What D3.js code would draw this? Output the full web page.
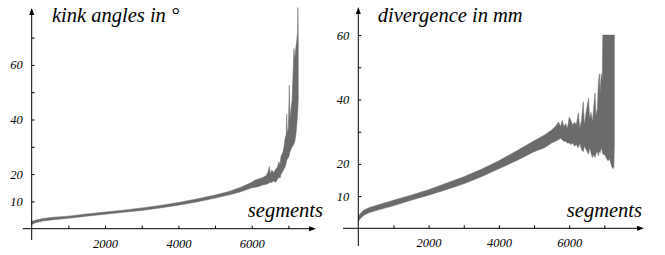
<!DOCTYPE html>
<html>
<head>
<meta charset="utf-8">
<script src="https://cdn.jsdelivr.net/npm/d3@7"></script>
<style>
  body { margin: 0; background: #fff; }
</style>
</head>
<body>
<svg id="chart" width="665" height="255"></svg>
<script>
// kink angles in degrees: band (low / high) read along the segment index
const kinkSeg  = [0, 100, 300, 600, 1000, 1500, 2000, 2500, 3000, 3500, 4000, 4500, 5000, 5400, 5700, 6000, 6100, 6200, 6300, 6400, 6450, 6480, 6510, 6550, 6600, 6650, 6700, 6740, 6770, 6800, 6850, 6880, 6910, 6940, 6955, 6970, 7000, 7025, 7040, 7070, 7100, 7130, 7150, 7175, 7200, 7230, 7250, 7258, 7265, 7270];
const kinkLow  = [1.5, 2.2, 2.8, 3.3, 3.8, 4.6, 5.3, 6.0, 6.7, 7.6, 8.6, 9.8, 11.2, 12.4, 13.5, 15.0, 15.2, 15.5, 16.0, 16.3, 16.5, 17.0, 16.8, 17.0, 17.5, 17.0, 18.0, 19.0, 18.5, 20.0, 21.0, 22.0, 22.5, 24.0, 25.0, 25.5, 26.0, 27.0, 28.0, 29.0, 30.0, 30.5, 31.0, 32.0, 34.0, 38.0, 42.0, 44.0, 46.0, 47.0];
const kinkHigh = [2.6, 3.1, 3.7, 4.2, 4.6, 5.4, 6.1, 6.8, 7.6, 8.5, 9.6, 10.9, 12.3, 13.7, 15.2, 17.0, 17.8, 18.3, 18.8, 19.5, 21.0, 22.8, 20.0, 21.5, 20.5, 21.8, 22.5, 24.5, 23.5, 26.5, 28.0, 30.0, 33.0, 34.5, 42.0, 35.0, 37.0, 52.5, 40.0, 44.0, 47.0, 58.0, 66.0, 62.0, 66.0, 69.0, 72.0, 81.0, 75.0, 68.0];

// divergence in mm (clipped at 60)
const divSeg  = [0, 50, 150, 300, 600, 1000, 1500, 2000, 2500, 3000, 3500, 4000, 4500, 5000, 5300, 5500, 5600, 5700, 5750, 5800, 5850, 5900, 5950, 6000, 6050, 6100, 6150, 6200, 6260, 6300, 6350, 6400, 6430, 6480, 6550, 6580, 6620, 6660, 6700, 6734, 6760, 6800, 6830, 6858, 6880, 6910, 6940, 6955, 7000, 7050, 7100, 7150, 7200, 7240, 7270, 7285];
const divLow  = [2.0, 3.0, 4.0, 4.8, 5.8, 7.0, 8.7, 10.3, 12.0, 13.8, 16.0, 18.5, 21.0, 23.8, 25.0, 26.5, 27.0, 27.5, 28.0, 27.5, 27.0, 27.0, 26.5, 26.5, 26.0, 26.5, 25.5, 26.0, 25.0, 26.5, 24.5, 23.8, 25.5, 24.5, 23.0, 25.0, 23.5, 22.0, 23.0, 22.0, 23.0, 24.0, 22.5, 24.0, 23.5, 25.0, 24.0, 23.0, 23.0, 22.0, 21.0, 21.5, 19.5, 18.5, 19.0, 26.0];
const divHigh = [3.6, 4.5, 5.6, 6.4, 7.4, 8.7, 10.3, 12.0, 14.0, 16.0, 18.3, 21.0, 24.0, 27.2, 29.0, 30.5, 31.5, 33.0, 31.5, 33.5, 31.5, 32.5, 31.0, 34.5, 33.5, 32.0, 33.0, 32.0, 35.8, 31.0, 33.5, 39.3, 32.0, 36.0, 40.4, 34.0, 36.0, 33.0, 38.0, 42.0, 35.0, 37.0, 45.0, 48.0, 42.0, 48.0, 46.0, 60.0, 60.0, 60.0, 60.0, 60.0, 60.0, 60.0, 60.0, 60.0];

const xTicks = [1000, 2000, 3000, 4000, 5000, 6000, 7000];
const xLabels = [2000, 4000, 6000];

const FONT = "'Liberation Serif', 'Times New Roman', Times, serif";

const panels = [
  { title: "kink angles in °", seg: kinkSeg, low: kinkLow, high: kinkHigh,
    x0: 31.7, xPerK: 36.67, y0: 228.7, yMax: 80, yPer10: 27.3,
    yTicks: [10, 20, 30, 40, 50, 60, 70], yLabels: [10, 20, 40, 60],
    xAxisL: 22.7, xAxisR: 316, yTop: 8, yBottom: 240, titleX: 52, segRight: 323 },
  { title: "divergence in mm", seg: divSeg, low: divLow, high: divHigh,
    x0: 358.3, xPerK: 35.15, y0: 228.3, yMax: 60, yPer10: 32.2,
    yTicks: [10, 20, 30, 40, 50, 60], yLabels: [10, 20, 40, 60],
    xAxisL: 343, xAxisR: 644, yTop: 7, yBottom: 246, titleX: 377.7, segRight: 642 }
];

const svg = d3.select("#chart");

panels.forEach(p => {
  const xScale = d3.scaleLinear().domain([0, 8000]).range([p.x0, p.x0 + 8 * p.xPerK]);
  const yScale = d3.scaleLinear().domain([0, p.yMax]).range([p.y0, p.y0 - p.yMax / 10 * p.yPer10]);

  const rows = p.seg.map((s, i) => ({ s: s, lo: p.low[i], hi: p.high[i] }));

  // data band
  const area = d3.area()
      .x(d => xScale(d.s))
      .y0(d => yScale(d.lo))
      .y1(d => yScale(d.hi));

  svg.append("path")
     .datum(rows)
     .attr("d", area)
     .attr("fill", "#6b6b6b")
     .attr("stroke", "#6b6b6b")
     .attr("stroke-width", 0.5);

  // x axis
  const xAxis = d3.axisBottom(xScale)
      .tickValues(xTicks)
      .tickSizeInner(-3)
      .tickSizeOuter(0)
      .tickPadding(10)
      .tickFormat(d => xLabels.includes(d) ? d : "");

  const gx = svg.append("g")
     .attr("transform", `translate(0,${p.y0})`)
     .call(xAxis);
  gx.select(".domain").remove();
  gx.selectAll("text")
    .style("font-family", FONT).style("font-style", "italic").style("font-size", "12.5px");

  // y axis
  const yAxis = d3.axisLeft(yScale)
      .tickValues(p.yTicks)
      .tickSizeInner(-3)
      .tickSizeOuter(0)
      .tickPadding(9)
      .tickFormat(d => p.yLabels.includes(d) ? d : "");

  const gy = svg.append("g")
     .attr("transform", `translate(${p.x0},0)`)
     .call(yAxis);
  gy.select(".domain").remove();
  gy.selectAll("text")
    .style("font-family", FONT).style("font-style", "italic").style("font-size", "12.5px");

  // axis lines with arrow heads
  svg.append("line")
     .attr("x1", p.xAxisL).attr("x2", p.xAxisR - 2)
     .attr("y1", p.y0).attr("y2", p.y0)
     .attr("stroke", "#000").attr("stroke-width", 1);
  svg.append("path")
     .attr("d", `M${p.xAxisR},${p.y0} L${p.xAxisR - 7},${p.y0 - 2.5} L${p.xAxisR - 7},${p.y0 + 2.5} Z`)
     .attr("fill", "#000");

  svg.append("line")
     .attr("x1", p.x0).attr("x2", p.x0)
     .attr("y1", p.yBottom).attr("y2", p.yTop + 2)
     .attr("stroke", "#000").attr("stroke-width", 1);
  svg.append("path")
     .attr("d", `M${p.x0},${p.yTop} L${p.x0 - 2.5},${p.yTop + 7} L${p.x0 + 2.5},${p.yTop + 7} Z`)
     .attr("fill", "#000");

  // titles
  svg.append("text")
     .attr("x", p.titleX).attr("y", 22)
     .style("font-family", FONT).style("font-style", "italic").style("font-size", "20.5px")
     .text(p.title);

  svg.append("text")
     .attr("x", p.segRight).attr("y", 217)
     .attr("text-anchor", "end")
     .style("font-family", FONT).style("font-style", "italic").style("font-size", "20.5px")
     .text("segments");
});
</script>
</body>
</html>
